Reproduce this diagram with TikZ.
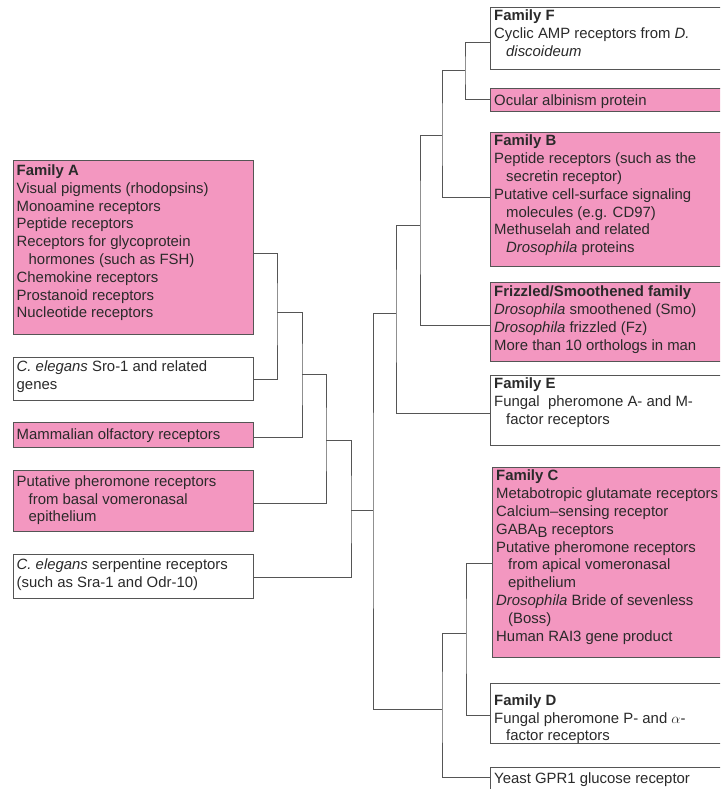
\documentclass[tikz,border=0pt]{standalone}
\usepackage{fontspec}
\setmainfont{Liberation Sans}
\definecolor{pinkfill}{HTML}{F397C0}
\definecolor{linegray}{HTML}{555555}
\definecolor{textgray}{HTML}{2A2A2A}
\begin{document}
\begin{tikzpicture}[x=1pt,y=-1pt,
  boxp/.style={draw=linegray, line width=0.9pt, fill=pinkfill, anchor=north west, inner sep=0pt, outer sep=0pt},
  boxw/.style={boxp, fill=white},
  txt/.style={anchor=north west, inner sep=0pt, align=left, yshift=11.5pt, text=textgray, font=\fontsize{14.9}{17.8}\selectfont},
  conn/.style={draw=linegray, line width=0.9pt}]
\useasboundingbox (0,0) rectangle (720,789);
\clip (0,0) rectangle (720,789);
% left boxes
\node[boxp, minimum width=240pt, minimum height=174pt] (famA) at (13,160) {};
\node[boxw, minimum width=240pt, minimum height=43pt] (sro) at (13,357) {};
\node[boxp, minimum width=240pt, minimum height=25pt] (olf) at (13,422) {};
\node[boxp, minimum width=240pt, minimum height=61pt] (basal) at (13,470) {};
\node[boxw, minimum width=240pt, minimum height=44pt] (serp) at (13,554) {};
% right boxes
\node[boxw, minimum width=250pt, minimum height=62pt] (famF) at (490,7) {};
\node[boxp, minimum width=250pt, minimum height=23pt] (ocular) at (490,88) {};
\node[boxp, minimum width=250pt, minimum height=134pt] (famB) at (490,132) {};
\node[boxp, minimum width=250pt, minimum height=79pt] (frz) at (490,282) {};
\node[boxw, minimum width=250pt, minimum height=70pt] (famE) at (490,375) {};
\node[boxp, minimum width=250pt, minimum height=190pt] (famC) at (492,467) {};
\node[boxw, minimum width=250pt, minimum height=60pt] (famD) at (490,683) {};
\node[boxw, minimum width=250pt, minimum height=40pt] (yeast) at (490,767) {};
% texts
\node[txt] (tA) at (16.5,175.3) {\rule{0pt}{11.5pt}\textbf{Family A}\\Visual pigments (rhodopsins)\\Monoamine receptors\\Peptide receptors\\Receptors for glycoprotein\\\hspace*{12pt}hormones (such as FSH)\\Chemokine receptors\\Prostanoid receptors\\Nucleotide receptors};
\node[txt] (tsro) at (16.5,371.7) {\rule{0pt}{11.5pt}\textit{C. elegans} Sro-1 and related\\genes};
\node[txt] (tolf) at (16.5,439) {\rule{0pt}{11.5pt}Mammalian olfactory receptors};
\node[txt] (tbasal) at (16.5,486) {\rule{0pt}{11.5pt}Putative pheromone receptors\\\hspace*{12pt}from basal vomeronasal\\\hspace*{12pt}epithelium};
\node[txt] (tserp) at (16.5,569.3) {\rule{0pt}{11.5pt}\textit{C. elegans} serpentine receptors\\(such as Sra-1 and Odr-10)};
\node[txt] (tF) at (494,20.7) {\rule{0pt}{11.5pt}\textbf{Family F}\\Cyclic AMP receptors from \textit{D.}\\\hspace*{12pt}\textit{discoideum}};
\node[txt] (tocular) at (494,105) {\rule{0pt}{11.5pt}Ocular albinism protein};
\node[txt] (tB) at (494,145.7) {\rule{0pt}{11.5pt}\textbf{Family B}\\Peptide receptors (such as the\\\hspace*{12pt}secretin receptor)\\Putative cell-surface signaling\\\hspace*{12pt}molecules (e.g. CD97)\\Methuselah and related\\\hspace*{12pt}\textit{Drosophila} proteins};
\node[txt] (tfrz) at (494,296.7) {\rule{0pt}{11.5pt}\textbf{Frizzled/Smoothened family}\\\textit{Drosophila} smoothened (Smo)\\\textit{Drosophila} frizzled (Fz)\\More than 10 orthologs in man};
\node[txt] (tE) at (494,388.3) {\rule{0pt}{11.5pt}\textbf{Family E}\\Fungal~ pheromone A- and M-\\\hspace*{12pt}factor receptors};
\node[txt] (tC) at (496,480.7) {\rule{0pt}{11.5pt}\textbf{Family C}\\Metabotropic glutamate receptors\\Calcium–sensing receptor\\GABA\raisebox{-3pt}{B} receptors\\Putative pheromone receptors\\\hspace*{12pt}from apical vomeronasal\\\hspace*{12pt}epithelium\\\textit{Drosophila} Bride of sevenless\\\hspace*{12pt}(Boss)\\Human RAI3 gene product};
\node[txt] (tD) at (494,705) {\rule{0pt}{11.5pt}\textbf{Family D}\\Fungal pheromone P- and $\alpha$-\\\hspace*{12pt}factor receptors};
\node[txt] (tyeast) at (494,783.3) {\rule{0pt}{11.5pt}Yeast GPR1 glucose receptor};
% tree junctions
\coordinate (n1) at (277,312);
\coordinate (n2) at (302,374);
\coordinate (n3) at (326,440);
\coordinate (n4) at (351,510);
\coordinate (root) at (373,510);
\coordinate (r1) at (396,313);
\coordinate (r2) at (420,225);
\coordinate (r3) at (442,135);
\coordinate (r4) at (465,70);
\coordinate (r5) at (466,633);
\coordinate (r6) at (442,709);
% connectors
\draw[conn] (famA.east|-0,253) -| (n1) |- (sro.east|-0,379);
\draw[conn] (n1) -| (n2) |- (olf.east|-0,437);
\draw[conn] (n2) -| (n3) |- (basal.east|-0,503);
\draw[conn] (n3) -| (n4) |- (serp.east|-0,577);
\draw[conn] (n4) -- (root);
\draw[conn] (r1) -| (root) |- (r6);
\draw[conn] (famF.west|-0,42) -| (r4) |- (ocular.west|-0,99);
\draw[conn] (r4) -| (r3) |- (famB.west|-0,197);
\draw[conn] (r3) -| (r2) |- (frz.west|-0,325);
\draw[conn] (r2) -| (r1) |- (famE.west|-0,413);
\draw[conn] (famC.west|-0,563) -| (r5) |- (famD.west|-0,715);
\draw[conn] (r5) -| (r6) |- (yeast.west|-0,777);
\end{tikzpicture}
\end{document}
